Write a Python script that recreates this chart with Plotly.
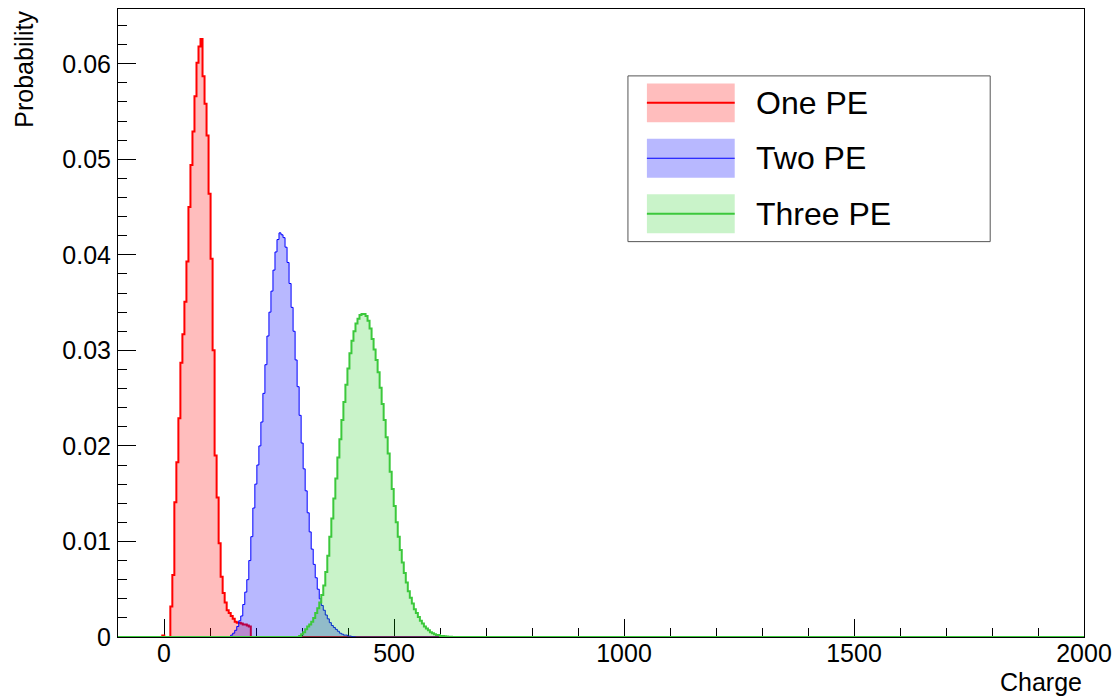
import plotly.graph_objects as go

# Histogram binning shared by the three charge spectra
X_LO = -100.0
X_HI = 2000.0
N_BINS = 480
BIN_WIDTH = (X_HI - X_LO) / N_BINS

# Bin contents (probability per bin); each list starts at the given bin index
one_pe_first_bin = 22
one_pe = [0.00015, 0, 0, 0,
          0.0032, 0.0065, 0.0141, 0.0183, 0.0229, 0.0287, 0.0317, 0.0351,
          0.0393, 0.0450, 0.0494, 0.0529, 0.0566, 0.0601, 0.0618, 0.0626,
          0.0587, 0.0558, 0.0525, 0.0464, 0.0396, 0.0300, 0.0190, 0.0146,
          0.0098, 0.0063, 0.0046, 0.0036, 0.0028, 0.0025, 0.0022, 0.0019,
          0.0016, 0.0015, 0.0015, 0.0014, 0.0013, 0.0013, 0.0012, 0.0011]

two_pe_first_bin = 56
two_pe = [0.0002, 0.0004, 0.0007, 0.0011, 0.0017, 0.0022, 0.0034, 0.0047,
          0.0060, 0.0080, 0.0105, 0.0135, 0.0160, 0.0180, 0.0200, 0.0225,
          0.0255, 0.0285, 0.0315, 0.0340, 0.0362, 0.0384, 0.0403, 0.0416,
          0.0423, 0.0421, 0.0418, 0.0408, 0.0392, 0.0370, 0.0345, 0.0320,
          0.0290, 0.0262, 0.0232, 0.0203, 0.0176, 0.0153, 0.0130, 0.0110,
          0.0092, 0.0076, 0.0062, 0.0050, 0.0040, 0.0033, 0.0028, 0.0023,
          0.0019, 0.0015, 0.0012, 0.0010, 0.0008, 0.0006, 0.0004, 0.0003,
          0.0002, 0.0002, 0.0001, 0.0001, 0.00005, 0.00003]

three_pe_first_bin = 90
three_pe = [0.0001, 0.0003, 0.0005, 0.0008, 0.0011, 0.0013, 0.0016, 0.0020,
            0.0025, 0.0030, 0.0036, 0.0044, 0.0054, 0.0068, 0.0085, 0.0105,
            0.0124, 0.0145, 0.0166, 0.0188, 0.0207, 0.0227, 0.0246, 0.0264,
            0.0281, 0.0297, 0.0310, 0.0320, 0.0328, 0.0333, 0.0337, 0.0338,
            0.0338, 0.0336, 0.0331, 0.0323, 0.0312, 0.0301, 0.0290, 0.0277,
            0.0261, 0.0244, 0.0227, 0.0209, 0.0192, 0.0173, 0.0155, 0.0137,
            0.0120, 0.0105, 0.0091, 0.0078, 0.0067, 0.0057, 0.0048, 0.0041,
            0.0035, 0.0029, 0.0025, 0.0021, 0.0017, 0.0014, 0.0011, 0.0009,
            0.0007, 0.0005, 0.0004, 0.0003, 0.0002, 0.0002, 0.0001, 0.0001,
            0.00008, 0.00005, 0.00003, 0.00002]

series_names = ["One PE", "Two PE", "Three PE"]
line_colors = ["#ff0000", "#0000ff", "#3cc83c"]
fill_colors = ["rgba(255,0,0,0.26)", "rgba(0,0,255,0.28)", "rgba(0,200,0,0.21)"]
line_widths = [2, 1, 2]

FONT = "Liberation Sans, Arial, Helvetica, sans-serif"


def histogram_steps(first_bin, contents):
    """Full-range step outline (bin left edges plus last right edge)."""
    full = [0.0] * N_BINS
    for i, h in enumerate(contents):
        full[first_bin + i] = h
    edges = [X_LO + BIN_WIDTH * k for k in range(N_BINS + 1)]
    return edges, full + [full[-1]]


fig = go.Figure()
for name, first, data, lc, fc, lw in zip(
        series_names,
        [one_pe_first_bin, two_pe_first_bin, three_pe_first_bin],
        [one_pe, two_pe, three_pe],
        line_colors, fill_colors, line_widths):
    xs, ys = histogram_steps(first, data)
    fig.add_trace(go.Scatter(
        x=xs, y=ys, name=name, mode="lines",
        line=dict(color=lc, width=lw, shape="hv"),
        fill="tozeroy", fillcolor=fc,
        showlegend=False, hoverinfo="skip",
    ))

y_top = 1.05 * max(one_pe + two_pe + three_pe)

axis_common = dict(
    showgrid=False, zeroline=False,
    showline=True, linecolor="black", linewidth=1, mirror=True,
    ticks="inside", tickcolor="black", tickwidth=1,
    tickfont=dict(family=FONT, size=25, color="black"),
    layer="below traces",
)

fig.update_xaxes(
    range=[X_LO, X_HI], tick0=0, dtick=500, ticklen=18,
    minor=dict(tick0=0, dtick=100, ticks="inside", ticklen=9,
               tickcolor="black", tickwidth=1),
    ticklabelstandoff=-6,
    **axis_common,
)
fig.update_yaxes(
    range=[0, y_top], tick0=0, dtick=0.01, ticklen=18,
    minor=dict(tick0=0, dtick=0.002, ticks="inside", ticklen=9,
               tickcolor="black", tickwidth=1),
    ticklabelstandoff=1,
    **axis_common,
)

# Plot-area geometry in pixels (used to place the legend box)
L, R, T, B = 118, 34, 8, 63
W, H = 1120, 700
PW, PH = W - L - R, H - T - B


def px_x(px):
    return (px - L) / PW


def px_y(py):
    return (H - B - py) / PH


shapes = []
annotations = []

# Legend frame
shapes.append(dict(type="rect", xref="paper", yref="paper",
                   x0=px_x(629), x1=px_x(992), y0=px_y(241), y1=px_y(75),
                   line=dict(color="#555555", width=1), fillcolor="white",
                   layer="above"))
entry_centers = [102, 157.5, 213]
for name, cy, lc, fc, lw in zip(series_names, entry_centers,
                                line_colors, fill_colors, line_widths):
    shapes.append(dict(type="rect", xref="paper", yref="paper",
                       x0=px_x(648), x1=px_x(736),
                       y0=px_y(cy + 19.5), y1=px_y(cy - 19.5),
                       line=dict(width=0), fillcolor=fc, layer="above"))
    shapes.append(dict(type="line", xref="paper", yref="paper",
                       x0=px_x(648), x1=px_x(736), y0=px_y(cy), y1=px_y(cy),
                       line=dict(color=lc, width=lw), layer="above"))
    annotations.append(dict(text=name, xref="paper", yref="paper",
                            x=px_x(755), y=px_y(cy), xanchor="left",
                            yanchor="middle", showarrow=False,
                            font=dict(family=FONT, size=32, color="black")))

# Axis titles, placed at the far end of each axis
annotations.append(dict(text="Charge", xref="paper", yref="paper",
                        x=1.0, y=px_y(682), xanchor="right", yanchor="middle",
                        showarrow=False,
                        font=dict(family=FONT, size=25, color="black")))
annotations.append(dict(text="Probability", xref="paper", yref="paper",
                        x=px_x(23), y=1.0, xanchor="center", yanchor="top",
                        textangle=-90, showarrow=False,
                        font=dict(family=FONT, size=25, color="black")))

fig.update_layout(
    width=W, height=H,
    margin=dict(l=L, r=R, t=T, b=B),
    paper_bgcolor="white", plot_bgcolor="white",
    shapes=shapes, annotations=annotations,
    showlegend=False,
)

fig.write_html("out.html")
